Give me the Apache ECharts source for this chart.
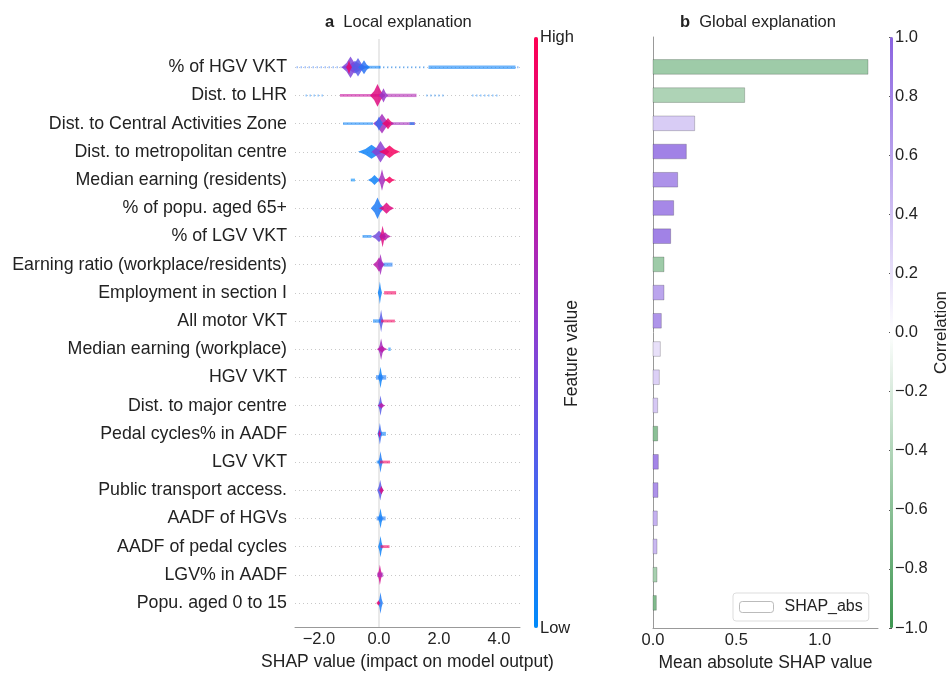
<!DOCTYPE html>
<html>
<head>
<meta charset="utf-8">
<script src="https://cdn.jsdelivr.net/npm/echarts@6/dist/echarts.min.js"></script>
<style>
  html, body { margin: 0; padding: 0; background: #fff; }
  #main { width: 951px; height: 673px; }
</style>
</head>
<body>
<div id="main"></div>
<script>
// feature names, top to bottom
var categories = [
  '% of HGV VKT', 'Dist. to LHR', 'Dist. to Central Activities Zone',
  'Dist. to metropolitan centre', 'Median earning (residents)', '% of popu. aged 65+',
  '% of LGV VKT', 'Earning ratio (workplace/residents)', 'Employment in section I',
  'All motor VKT', 'Median earning (workplace)', 'HGV VKT', 'Dist. to major centre',
  'Pedal cycles% in AADF', 'LGV VKT', 'Public transport access.', 'AADF of HGVs',
  'AADF of pedal cycles', 'LGV% in AADF', 'Popu. aged 0 to 15'
];

// panel b: mean |SHAP| and correlation of each feature
var shapAbs = [1.29, 0.55, 0.25, 0.20, 0.148, 0.124, 0.106, 0.066, 0.066, 0.05,
  0.044, 0.038, 0.028, 0.028, 0.032, 0.03, 0.026, 0.024, 0.024, 0.02];
var correlation = [-0.5, -0.42, 0.33, 0.8, 0.7, 0.76, 0.8, -0.5, 0.58, 0.68,
  0.2, 0.3, 0.35, -0.6, 0.78, 0.7, 0.5, 0.45, -0.45, -0.65];

// panel a: swarm clusters
// each entry: [shap centre, half width, spread (rows), feature value 0..1]
var swHgvShare = [[-2.0, 0.75, 0.03, 0.15], [-0.8, 0.45, 0.22, 0.35], [-0.95, 0.3, 0.38, 0.45],
  [-0.7, 0.25, 0.33, 0.3], [-0.5, 0.2, 0.25, 0.15], [-1.0, 0.1, 0.25, 0.9],
  [-0.2, 0.25, 0.05, 0.05], [0.8, 0.8, 0.04, 0.05], [3.1, 1.45, 0.06, 0.05], [4.65, 0.05, 0.03, 0.1]];
var swLhr = [[-2.15, 0.3, 0.03, 0.05], [-0.55, 0.75, 0.05, 0.75], [0.75, 0.5, 0.06, 0.65],
  [-0.05, 0.25, 0.4, 0.85], [0.15, 0.15, 0.25, 0.55], [1.9, 0.33, 0.03, 0.05], [3.55, 0.45, 0.03, 0.05]];
var swCaz = [[-0.7, 0.5, 0.045, 0.05], [0.1, 0.3, 0.35, 0.6], [0.0, 0.15, 0.25, 0.2],
  [0.3, 0.2, 0.2, 0.9], [0.8, 0.4, 0.05, 0.6], [1.1, 0.08, 0.05, 0.05]];
var swMetro = [[-0.25, 0.45, 0.25, 0.05], [0.05, 0.3, 0.38, 0.5], [0.35, 0.35, 0.22, 0.95]];
var swEarnRes = [[-0.87, 0.07, 0.05, 0.0], [-0.15, 0.22, 0.18, 0.05], [0.1, 0.12, 0.38, 0.6],
  [0.35, 0.2, 0.12, 0.95]];
var swAged65 = [[-0.05, 0.22, 0.38, 0.1], [0.25, 0.25, 0.2, 0.85]];
var swLgvShare = [[-0.4, 0.15, 0.05, 0.05], [0.0, 0.25, 0.2, 0.4], [0.12, 0.1, 0.38, 0.85],
  [0.2, 0.2, 0.15, 0.7]];
var swEarnRatio = [[0.0, 0.2, 0.25, 0.7], [0.05, 0.1, 0.38, 0.6], [0.3, 0.15, 0.07, 0.1]];
var swEmploy = [[0.03, 0.07, 0.4, 0.05], [0.37, 0.2, 0.06, 0.95]];
var swMotor = [[0.07, 0.08, 0.4, 0.3], [-0.07, 0.13, 0.06, 0.05], [0.3, 0.23, 0.05, 0.95]];
var swEarnWork = [[0.07, 0.1, 0.38, 0.6], [0.1, 0.18, 0.12, 0.7], [0.35, 0.04, 0.06, 0.05]];
var swHgv = [[0.05, 0.08, 0.38, 0.05], [0.07, 0.17, 0.08, 0.1]];
var swMajor = [[0.05, 0.08, 0.36, 0.3], [0.08, 0.13, 0.1, 0.7]];
var swPedalShare = [[0.03, 0.08, 0.38, 0.2], [0.1, 0.13, 0.07, 0.05], [0.02, 0.05, 0.15, 0.8]];
var swLgv = [[0.05, 0.08, 0.38, 0.1], [0.2, 0.17, 0.05, 0.95], [-0.03, 0.05, 0.05, 0.05]];
var swTransport = [[0.04, 0.1, 0.36, 0.3], [0.08, 0.08, 0.15, 0.85]];
var swAadfHgv = [[0.05, 0.08, 0.36, 0.05], [0.07, 0.15, 0.07, 0.1]];
var swAadfPedal = [[0.05, 0.08, 0.38, 0.05], [0.2, 0.15, 0.05, 0.95]];
var swLgvAadf = [[0.03, 0.08, 0.36, 0.8], [0.04, 0.1, 0.08, 0.6]];
var swYoung = [[0.05, 0.08, 0.38, 0.1], [-0.02, 0.07, 0.1, 0.9]];

var swarms = [swHgvShare, swLhr, swCaz, swMetro, swEarnRes, swAged65, swLgvShare,
  swEarnRatio, swEmploy, swMotor, swEarnWork, swHgv, swMajor, swPedalShare, swLgv,
  swTransport, swAadfHgv, swAadfPedal, swLgvAadf, swYoung];

var FONT = 'Liberation Sans, Arial, sans-serif';
var minus = function (v) { return (v < 0 ? '\u2212' : '') + Math.abs(v).toFixed(1); };

var swarmData = [];
swarms.forEach(function (list, row) {
  list.forEach(function (e) { swarmData.push([e[0], e[1], row, e[2], e[3]]); });
});
var barData = shapAbs.map(function (v, i) { return [v, i, correlation[i]]; });

function renderSwarm(params, api) {
  var x = api.value(0), w = api.value(1), row = api.value(2), s = api.value(3);
  var color = api.visual('color');
  if (s <= 0.04) {
    // sparse scatter of points
    var a = api.coord([x - w, row]), b = api.coord([x + w, row]);
    return {
      type: 'line',
      shape: { x1: a[0], y1: a[1], x2: b[0], y2: b[1] },
      style: { stroke: color, lineWidth: 2, lineDash: [1.5, 2.5], opacity: 0.45 }
    };
  }
  if (s <= 0.09) {
    // thin tail
    var p0 = api.coord([x - w, row - s]), p1 = api.coord([x + w, row + s]);
    return {
      type: 'rect',
      shape: { x: p0[0], y: p0[1], width: p1[0] - p0[0], height: p1[1] - p0[1] },
      style: { fill: color, opacity: 0.6 }
    };
  }
  var pts = [
    [x - w, row], [x - w * 0.45, row - s * 0.4], [x, row - s], [x + w * 0.45, row - s * 0.4],
    [x + w, row], [x + w * 0.45, row + s * 0.4], [x, row + s], [x - w * 0.45, row + s * 0.4]
  ].map(function (p) { return api.coord(p); });
  return { type: 'polygon', shape: { points: pts }, style: { fill: color, opacity: 0.85 } };
}

function renderBar(params, api) {
  var p0 = api.coord([0, api.value(1) - 0.26]);
  var p1 = api.coord([api.value(0), api.value(1) + 0.26]);
  return {
    type: 'rect',
    shape: { x: p0[0], y: p0[1], width: p1[0] - p0[0], height: p1[1] - p0[1] },
    style: { fill: api.visual('color'), stroke: 'rgba(0,0,0,0.25)', lineWidth: 0.8 }
  };
}

var chart = echarts.init(document.getElementById('main'));
chart.setOption({
  animation: false,
  textStyle: { fontFamily: FONT, color: '#222' },
  title: [
    { text: '{b|a}  Local explanation', left: 320, top: 9,
      textStyle: { fontSize: 16.5, fontWeight: 'normal', color: '#222', fontFamily: FONT,
        rich: { b: { fontSize: 16.5, fontWeight: 'bold', fontFamily: FONT, color: '#222' } } } },
    { text: '{b|b}  Global explanation', left: 675, top: 9,
      textStyle: { fontSize: 16.5, fontWeight: 'normal', color: '#222', fontFamily: FONT,
        rich: { b: { fontSize: 16.5, fontWeight: 'bold', fontFamily: FONT, color: '#222' } } } }
  ],
  legend: {
    data: ['SHAP_abs'], left: 733, top: 593, orient: 'vertical',
    borderColor: '#ddd', borderWidth: 1, borderRadius: 3, padding: [6, 6, 6, 6],
    itemWidth: 34, itemHeight: 11, itemGap: 8,
    itemStyle: { color: '#fff', borderColor: '#bbb', borderWidth: 1 },
    textStyle: { fontSize: 16, color: '#222', fontFamily: FONT, padding: [0, 0, 0, 6] },
    selectedMode: false
  },
  graphic: [
    { type: 'text', left: 563, top: 300, rotation: Math.PI / 2, silent: true,
      style: { text: 'Feature value', fontSize: 17.5, fontFamily: FONT, fill: '#222' } }
  ],
  grid: [
    { left: 295, right: 431, top: 39, bottom: 46, outerBoundsMode: 'none' },
    { left: 653, right: 73, top: 37, bottom: 45, outerBoundsMode: 'none' },
    { left: 533, width: 4, top: 37, bottom: 45, outerBoundsMode: 'none' },
    { left: 889, width: 4, top: 37, bottom: 45, outerBoundsMode: 'none' }
  ],
  visualMap: [
    { type: 'continuous', seriesIndex: 1, dimension: 4, min: 0, max: 1,
      left: 534, top: 37, itemWidth: 4, itemHeight: 591, padding: 0,
      calculable: false, hoverLink: false, text: null, showLabel: false,
      inRange: { color: ['#008bfb', '#4a63ee', '#8c3fd2', '#c8129e', '#ff0052'] } },
    { type: 'continuous', seriesIndex: 2, dimension: 2, min: -1, max: 1,
      left: 890, top: 37, itemWidth: 3, itemHeight: 591, padding: 0,
      calculable: false, hoverLink: false, text: null, showLabel: false,
      inRange: { color: ['#3d9650', '#ffffff', '#8a63e0'] } }
  ],
  xAxis: [
    { gridIndex: 0, type: 'value', min: -2.8, max: 4.7,
      name: 'SHAP value (impact on model output)', nameLocation: 'middle', nameGap: 24,
      nameTextStyle: { fontSize: 17.5, color: '#222' },
      axisLine: { onZero: false, lineStyle: { color: '#999' } }, axisTick: { show: false },
      axisLabel: { customValues: [-2, 0, 2, 4], formatter: minus, fontSize: 16.5, color: '#222', margin: 4 },
      splitLine: { show: false } },
    { gridIndex: 1, type: 'value', min: 0, max: 1.35,
      name: 'Mean absolute SHAP value', nameLocation: 'middle', nameGap: 24,
      nameTextStyle: { fontSize: 17.5, color: '#222' },
      axisLine: { onZero: false, lineStyle: { color: '#999' } }, axisTick: { show: false },
      axisLabel: { customValues: [0, 0.5, 1], formatter: minus, fontSize: 16.5, color: '#222', margin: 4 },
      splitLine: { show: false } },
    { gridIndex: 2, type: 'value', show: false },
    { gridIndex: 3, type: 'value', show: false }
  ],
  yAxis: [
    { gridIndex: 0, type: 'value', inverse: true, min: -1, max: 19.85,
      axisLine: { show: false, onZero: false }, axisTick: { show: false }, splitLine: { show: false },
      axisLabel: { customValues: categories.map(function (c, i) { return i; }),
        formatter: function (v) { return categories[v]; }, fontSize: 17.8, color: '#222', margin: 8 } },
    { gridIndex: 1, type: 'value', inverse: true, min: -1.06, max: 19.89,
      axisLine: { show: true, onZero: false, lineStyle: { color: '#999' } }, axisTick: { show: false },
      axisLabel: { show: false }, splitLine: { show: false } },
    { gridIndex: 2, type: 'value', min: 0, max: 1, position: 'right',
      axisLine: { show: false }, axisTick: { show: false }, splitLine: { show: false },
      axisLabel: { customValues: [0, 1], formatter: function (v) { return v === 1 ? 'High' : 'Low'; },
        fontSize: 16.5, color: '#222', margin: 3 } },
    { gridIndex: 3, type: 'value', min: -1, max: 1, interval: 0.2, position: 'right',
      name: 'Correlation', nameLocation: 'middle', nameGap: 40,
      nameTextStyle: { fontSize: 17, color: '#222' },
      axisLine: { show: false }, splitLine: { show: false },
      axisTick: { show: true, length: 3, lineStyle: { color: '#555' } },
      axisLabel: { formatter: minus, fontSize: 16.5, color: '#222', margin: 2 } }
  ],
  series: [
    // row guides and zero line, drawn under the swarm
    { type: 'scatter', xAxisIndex: 0, yAxisIndex: 0, data: [], silent: true, z: 1,
      markLine: {
        silent: true, symbol: 'none', label: { show: false }, z: 1,
        data: categories.map(function (c, i) {
          return { yAxis: i, lineStyle: { color: '#c8c8c8', type: [1, 3], width: 1 } };
        }).concat([{ xAxis: 0, lineStyle: { color: '#e2e2e2', type: 'solid', width: 1.5 } }])
      } },
    { type: 'custom', xAxisIndex: 0, yAxisIndex: 0, renderItem: renderSwarm, data: swarmData,
      silent: true, z: 3 },
    { type: 'custom', name: 'SHAP_abs', xAxisIndex: 1, yAxisIndex: 1, renderItem: renderBar,
      data: barData, silent: true }
  ]
});
</script>
</body>
</html>
